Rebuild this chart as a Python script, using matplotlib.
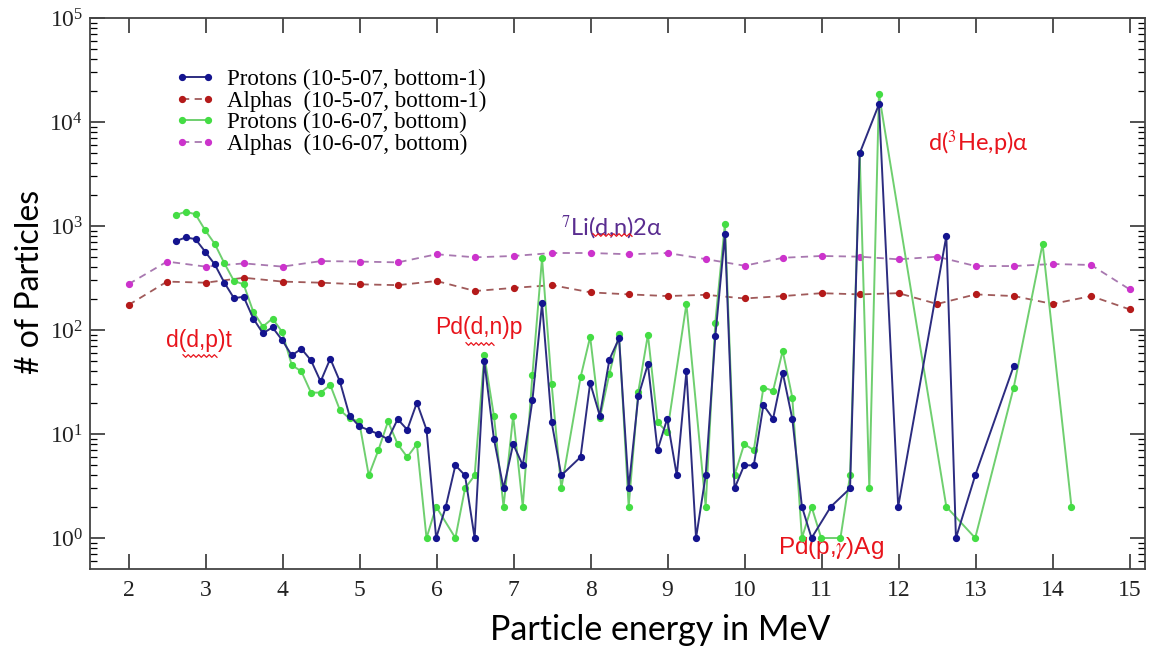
import numpy as np
import matplotlib
matplotlib.use("Agg")
import matplotlib.pyplot as plt
from matplotlib.ticker import LogLocator, NullFormatter, FixedLocator
from matplotlib.lines import Line2D

# ---------------- data ----------------
alpha_energy = [2.0, 2.5, 3.0, 3.5, 4.0, 4.5, 5.0, 5.5, 6.0, 6.5, 7.0, 7.5, 8.0, 8.5,
                9.0, 9.5, 10.0, 10.5, 11.0, 11.5, 12.0, 12.5, 13.0, 13.5, 14.0, 14.5, 15.0]
alphas_1005 = [174, 292, 285, 318, 292, 285, 275, 270, 296, 237, 254, 270, 230, 220,
               212, 218, 201, 212, 226, 220, 226, 178, 220, 212, 178, 212, 158]
alphas_1006 = [276, 455, 407, 437, 407, 460, 455, 447, 535, 500, 515, 550, 550, 535,
               550, 480, 415, 495, 515, 507, 478, 507, 412, 412, 431, 422, 246]

protons_1005_energy = [2.62, 2.745, 2.87, 2.995, 3.12, 3.245, 3.37, 3.495, 3.62, 3.745,
                       3.87, 3.995, 4.12, 4.245, 4.37, 4.495, 4.62, 4.745, 4.87, 4.995,
                       5.12, 5.245, 5.37, 5.495, 5.62, 5.745, 5.87, 5.995, 6.12, 6.245,
                       6.37, 6.495, 6.62, 6.745, 6.87, 6.995, 7.12, 7.245, 7.37, 7.495,
                       7.62, 7.87, 7.995, 8.12, 8.245, 8.37, 8.495, 8.62, 8.745, 8.87,
                       8.995, 9.12, 9.245, 9.37, 9.495, 9.62, 9.745, 9.87, 9.995, 10.12,
                       10.245, 10.37, 10.495, 10.62, 10.745, 10.87, 11.12, 11.37, 11.495,
                       11.745, 11.995, 12.62, 12.745, 12.995, 13.495]
protons_1005 = [718, 777, 747, 567, 427, 285, 202, 209, 129, 93,
                106, 80, 57, 66, 51, 32, 53, 32, 15, 11.9,
                10.9, 10, 8.9, 13.9, 11, 20, 11, 1, 2, 5,
                4, 1, 50, 9, 3, 8, 5, 21, 180, 13,
                4, 6, 31, 15, 52, 83, 3, 23, 47, 7,
                14, 4, 40, 1, 4, 87, 836, 3, 5, 5,
                19, 14, 39, 14, 2, 1, 2, 3, 5000,
                14800, 2, 800, 1, 4, 45]

protons_1006_energy = [2.62, 2.745, 2.87, 2.995, 3.12, 3.245, 3.37, 3.495, 3.62, 3.745,
                       3.87, 3.995, 4.12, 4.245, 4.37, 4.495, 4.62, 4.745, 4.87, 4.995,
                       5.12, 5.245, 5.37, 5.495, 5.62, 5.745, 5.87, 5.995, 6.245, 6.37,
                       6.495, 6.62, 6.745, 6.87, 6.995, 7.12, 7.245, 7.37, 7.495, 7.62,
                       7.87, 7.995, 8.12, 8.245, 8.37, 8.495, 8.62, 8.745, 8.87, 8.995,
                       9.245, 9.495, 9.62, 9.745, 9.87, 9.995, 10.12, 10.245, 10.37, 10.495,
                       10.62, 10.745, 10.87, 10.995, 11.245, 11.37, 11.495, 11.62, 11.745,
                       12.62, 12.995, 13.495, 13.87, 14.245]
protons_1006 = [1277, 1375, 1295, 913, 673, 438, 296, 275, 150, 108,
                129, 96, 46, 40, 25, 25, 29.6, 17, 14.1, 13.2,
                4, 7, 13.2, 8, 6, 8, 1, 2, 1, 3,
                4, 57, 15, 2, 15, 2, 37, 490, 30, 3,
                35, 86, 14.1, 38, 91, 2, 25.5, 90, 13, 10.4,
                178, 2, 118, 1050, 4, 8, 7, 28, 26, 63,
                22.4, 1, 2, 1, 1, 4, 5000, 3, 18600,
                2, 1, 28, 673, 2]

legend_labels = ["Protons (10-5-07, bottom-1)", "Alphas  (10-5-07, bottom-1)",
                 "Protons (10-6-07, bottom)", "Alphas  (10-6-07, bottom)"]
x_ticks = list(range(2, 16))

# ---------------- figure ----------------
plt.rcParams['mathtext.fontset'] = 'stix'
W, H = 1156, 647
fig = plt.figure(figsize=(W / 100, H / 100), dpi=100)
ax = fig.add_axes([90 / W, 1 - 569 / H, (1145 - 90) / W, (569 - 18) / H])

ms = 4.2
ax.plot(protons_1005_energy, protons_1005, '-', color='#2c2c80', lw=1.4,
        marker='o', ms=ms, mfc='#14148f', mec='#14148f', label=legend_labels[0], zorder=4)
ax.plot(alpha_energy, alphas_1005, '--', color='#a05a5a', lw=1.3, dashes=(4, 3),
        marker='o', ms=ms, mfc='#b41a1a', mec='#b41a1a', label=legend_labels[1], zorder=3)
ax.plot(protons_1006_energy, protons_1006, '-', color='#6fcf6f', lw=1.4,
        marker='o', ms=ms, mfc='#44dd44', mec='#44dd44', label=legend_labels[2], zorder=3.5)
ax.plot(alpha_energy, alphas_1006, '--', color='#a878b0', lw=1.3, dashes=(4, 3),
        marker='o', ms=ms, mfc='#cc33cc', mec='#cc33cc', label=legend_labels[3], zorder=3)

ax.set_yscale('log')
ax.set_xlim(1.5, 15.2)
ax.set_ylim(10 ** (-0.298), 1e5)

ax.xaxis.set_major_locator(FixedLocator(x_ticks))
ax.set_xticklabels([str(t) for t in x_ticks])
ax.yaxis.set_major_locator(LogLocator(base=10, numticks=10))
ax.yaxis.set_minor_locator(LogLocator(base=10, subs=np.arange(2, 10), numticks=20))
ax.yaxis.set_minor_formatter(NullFormatter())

ax.tick_params(axis='both', which='major', direction='in', length=11, width=1.2,
               top=True, right=True, labelsize=17, colors='#333333')
ax.tick_params(axis='y', which='minor', direction='in', length=5, width=0.9,
               left=True, right=True)
ax.tick_params(axis='x', which='major', pad=8)
ax.tick_params(axis='y', which='major', pad=5)
for lab in ax.get_xticklabels() + ax.get_yticklabels():
    lab.set_family('Liberation Serif')
    lab.set_color('#222222')
for sp in ax.spines.values():
    sp.set_color('#444444')
    sp.set_linewidth(1.3)

ax.set_xlabel('Particle energy in MeV', family='Lato', fontsize=24.5)
ax.xaxis.set_label_coords(0.540, -0.110, transform=ax.transAxes)
ax.xaxis.label.set_va('center')
ax.set_ylabel('# of Particles', family='Lato', fontsize=23)
ax.yaxis.set_label_coords(-0.0569, 0.521, transform=ax.transAxes)
ax.yaxis.label.set_va('center')

leg = ax.legend(loc='upper left', bbox_to_anchor=(0.072, 0.924), frameon=False,
                numpoints=2, handlelength=1.75, handletextpad=0.5, labelspacing=0.02,
                borderaxespad=0, prop={'family': 'Liberation Serif', 'size': 16.5})

# ---------------- annotations ----------------
red = '#e8141c'
ax.text(2.91, 10 ** 1.90, 'd(d,p)t', color=red, family='Liberation Sans', fontsize=16.5,
        ha='center', va='center')
ax.text(6.55, 10 ** 2.02, 'Pd(d,n)p', color=red, family='Liberation Sans', fontsize=16.5,
        ha='center', va='center')
ax.text(8.28, 10 ** 2.98, r'$^{7}$Li(d,n)2α', color='#5a2d90', family='Lato', fontsize=17,
        ha='center', va='center')
ax.text(13.04, 10 ** 3.80, r'd($^{3}$He,p)α', color=red, family='Lato', fontsize=17,
        ha='center', va='center')
ax.text(11.12, 10 ** (-0.10), r'Pd(p,$\gamma$)Ag', color=red, family='Liberation Sans',
        fontsize=17.5, ha='center', va='center')


# spell-check style wavy underlines (decoration, figure pixel coordinates)
def squiggle(x0, x1, y):
    n = int((x1 - x0) / 2.5) + 1
    xs = np.linspace(x0, x1, n)
    ys = y + np.where(np.arange(n) % 2 == 0, -1.3, 1.3)
    fig.add_artist(Line2D(xs / W, 1 - ys / H, transform=fig.transFigure,
                          color='#e8141c', lw=0.9))


squiggle(183, 217, 356)
squiggle(466, 494, 344)
squiggle(593, 632, 235)

fig.savefig('out.png', dpi=100)
